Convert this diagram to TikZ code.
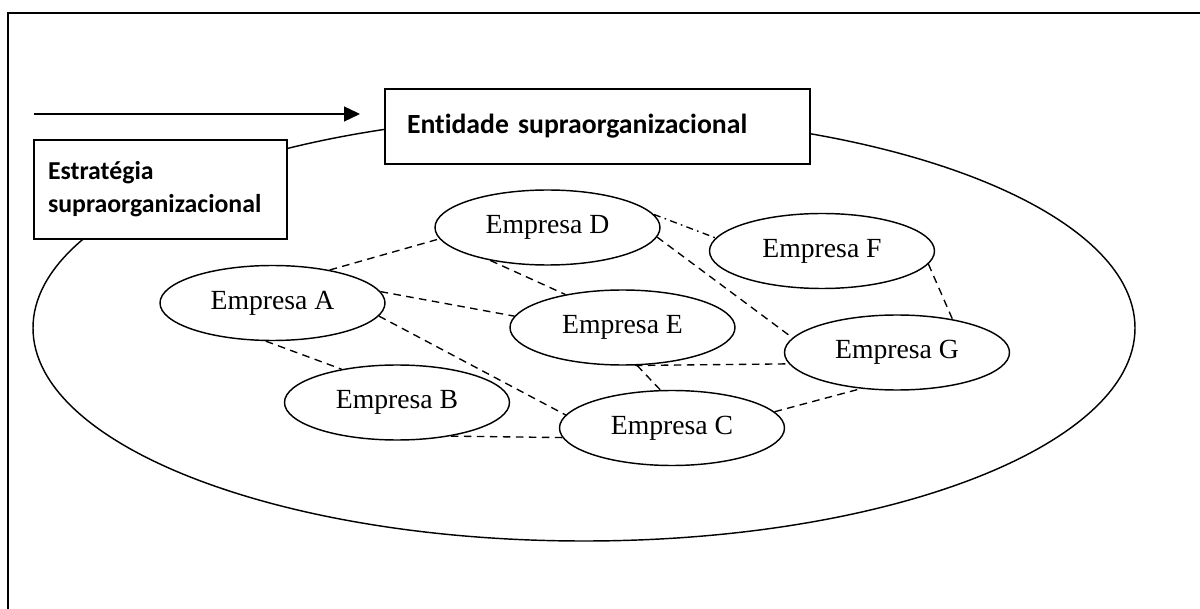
\documentclass[tikz,border=0pt]{standalone}
\usepackage{fontspec}
\setmainfont{Liberation Serif}
\newfontfamily\carlito[Ligatures={NoCommon}]{Carlito}
\usetikzlibrary{shapes.geometric,arrows.meta}
\begin{document}
\begin{tikzpicture}[x=0.5pt,y=-0.5pt,
  firm/.style={draw,ellipse,line width=0.72pt,inner sep=0pt,
    minimum width=112.5pt,minimum height=37.5pt,font=\fontsize{13.85}{16}\selectfont},
  link/.style={line width=0.68pt,dash pattern=on 3.8pt off 2.7pt},
  linkdot/.style={line width=0.68pt,dash pattern=on 3.5pt off 2.2pt on 0.8pt off 2.2pt},
  labelbox/.style={draw,rectangle,line width=1.25pt,fill=white,align=left}]
\useasboundingbox (0,0) rectangle (1200,609);
% frame
\draw[line width=1.35pt] (8,609) -- (8,13) -- (1200,13);

% supra-organisational entity boundary
\node[draw,ellipse,line width=0.72pt,inner sep=0pt,
  minimum width=551pt,minimum height=213pt] (org) at (584,328) {};

% strategy arrow
\coordinate (arrowstart) at (34,114);
\coordinate (arrowend) at (360,114);
\draw[line width=0.7pt,-{Triangle[length=8pt,width=7.5pt]}] (arrowstart) -- (arrowend);

% labels
\node[labelbox,minimum width=126.5pt,minimum height=49.5pt,inner xsep=7pt,
  text width=112.5pt,font=\carlito\bfseries\fontsize{12.9}{16.5}\selectfont]
  (strat) at (160.5,189.5) {Estratégia\\supraorganizacional};
\node[labelbox,minimum width=212.5pt,minimum height=37.5pt,inner xsep=11pt,
  text width=190.5pt,font=\carlito\bfseries\fontsize{13.85}{16}\selectfont]
  (ent) at (597.5,126.5) {Entidade supraorganizacional};

% firms
\node[firm] (A) at (272.5,303) {Empresa A};
\node[firm] (B) at (397,402.5) {Empresa B};
\node[firm] (C) at (672,428) {Empresa C};
\node[firm] (D) at (547.5,227.5) {Empresa D};
\node[firm] (E) at (622.5,327.5) {Empresa E};
\node[firm] (F) at (822,251) {Empresa F};
\node[firm] (G) at (897,352.5) {Empresa G};

% relationships
\draw[link] (A.30) -- (D.186);
\draw[link] (A.6) -- (E.174);
\draw[link] (A.353) -- (C.173);
\draw[link] (A.260) -- (B.149);
\draw[link] (B.328) -- (C.185);
\draw[link] (D.210) -- (E.150);
\draw[link] (D.355) -- (G.172);
\draw[linkdot] (D.7) -- (F.173);
\draw[link] (E.288) -- (G.186);
\draw[link] (E.291) -- (C.107);
\draw[link] (C.9) -- (G.225);
\draw[link] (F.353) -- (G.31);
\end{tikzpicture}
\end{document}
